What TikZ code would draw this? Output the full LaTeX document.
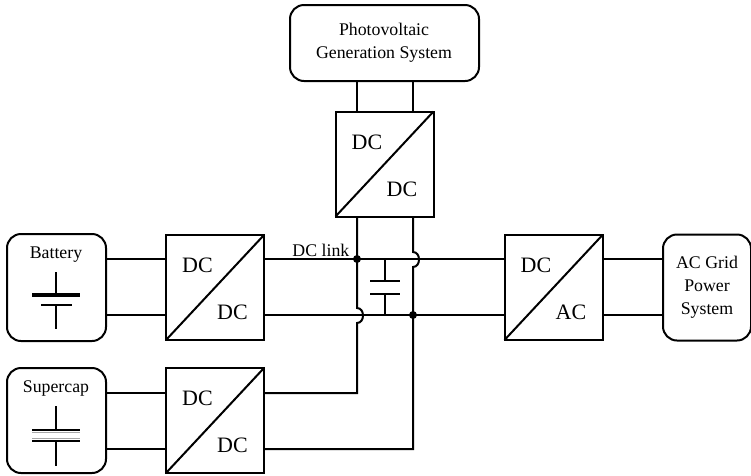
\documentclass[tikz,border=0pt]{standalone}
\usepackage{fontspec}
\setmainfont{Liberation Serif}
\usetikzlibrary{positioning, calc}
\tikzset{
	source/.style={draw, line width=2pt, rounded corners=14pt, inner sep=0pt, outer sep=0pt},
	conv/.style={draw, line width=2pt, minimum width=98pt, minimum height=105pt, inner sep=0pt, outer sep=0pt},
	wire/.style={line width=2pt},
	thin wire/.style={line width=1.5pt},
	lab/.style={font=\fontsize{22}{24}\selectfont, inner sep=0pt},
	caption/.style={font=\fontsize{17.8}{23}\selectfont, align=center, inner sep=0pt},
	dot/.style={circle, fill=black, inner sep=0pt, minimum size=8pt},
}
\newcommand{\convlabel}[3]{
	\draw[line width=2pt] (#1.south west) -- (#1.north east);
	\node[lab] (#1 a) at ($(#1.center)+(-17.5,-22)$) {#2};
	\node[lab] (#1 b) at ($(#1.center)+(17.5,25)$) {#3};
}
\begin{document}
\begin{tikzpicture}[x=1pt, y=-1pt]
	\useasboundingbox (0,0) rectangle (751,475);
	
	\node[source, minimum width=189pt, minimum height=76pt] (pv) at (384.5,43) {};
	\node[caption] (pvtext) at (384,43) {Photovoltaic\\Generation System};
	\node[conv] (top) at (384.5,164) {};
	\convlabel{top}{DC}{DC}
	
	\node[source, minimum width=99pt, minimum height=107pt] (bat) at (56.5,287.5) {};
	\node[caption] (battext) at (56,255) {Battery};
	\node[conv, right=60pt of bat] (dca) {};
	\convlabel{dca}{DC}{DC}
	
	\node[source, minimum width=99pt, minimum height=105pt] (sc) at (56.5,420.5) {};
	\node[caption] (sctext) at (56,388) {Supercap};
	\node[conv, right=60pt of sc] (dcb) {};
	\convlabel{dcb}{DC}{DC}
	
	\node[conv] (dcac) at (553.5,287.5) {};
	\convlabel{dcac}{DC}{AC}
	
	\node[source, minimum width=88pt, minimum height=106pt] (grid) at (707,287.5) {};
	\node[caption] (gridtext) at (707,287.5) {AC Grid\\Power\\System};
	
	\coordinate (pl) at (357,81);
	\coordinate (pr) at (413,81);
	\coordinate (jl) at (357,259);
	\coordinate (jr) at (413,315);
	\coordinate (bl) at (265,393);
	\coordinate (br) at (265,449);
	\node[dot] (jldot) at (jl) {};
	\node[dot] (jrdot) at (jr) {};
	\node[caption, anchor=south east] (link) at (349.5,257) {DC link};
	
	\draw[wire] (pl) -- (pl |- top.north);
	\draw[wire] (pr) -- (pr |- top.north);
	
	% left rail hops the lower bus, right rail hops the upper bus
	\draw[wire] (jl |- top.south) -- (jl) -- (357,308) .. controls (365,308) and (365,323) .. (357,323) -- (357,393) -- (bl);
	\draw[wire] (pr |- top.south) -- (413,252) .. controls (421,252) and (421,267) .. (413,267) -- (jr) -- (413,449) -- (br);
	
	\draw[wire] (dca.east |- jl) -- (jl) -- (dcac.west |- jl);
	\draw[wire] (dca.east |- jr) -- (jr) -- (dcac.west |- jr);
	\draw[wire] (dcac.east |- jl) -- (grid.west |- jl);
	\draw[wire] (dcac.east |- jr) -- (grid.west |- jr);
	\draw[wire] (bat.east |- jl) -- (dca.west |- jl);
	\draw[wire] (bat.east |- jr) -- (dca.west |- jr);
	\draw[wire] (sc.east |- bl) -- (dcb.west |- bl);
	\draw[wire] (sc.east |- br) -- (dcb.west |- br);
	
	\draw[thin wire] (385,259) -- (385,281);
	\draw[thin wire] (385,294) -- (385,315);
	\draw[thin wire] (370,281) -- (400,281);
	\draw[thin wire] (370,294) -- (400,294);
	
	\draw[thin wire] (56,272) -- (56,295);
	\draw[line width=3.2pt] (32,295) -- (80,295);
	\draw[line width=2pt] (41,305) -- (72,305);
	\draw[thin wire] (56,305) -- (56,329);
	
	\draw[thin wire] (56,406) -- (56,430);
	\draw[line width=2pt] (32,430) -- (80,430);
	\draw[line width=2pt] (32,441) -- (80,441);
	\draw[gray!70, line width=1pt] (32,432.5) -- (80,432.5);
	\draw[gray!70, line width=1pt] (32,438.5) -- (80,438.5);
	\draw[thin wire] (56,441) -- (56,466);
\end{tikzpicture}
\end{document}
